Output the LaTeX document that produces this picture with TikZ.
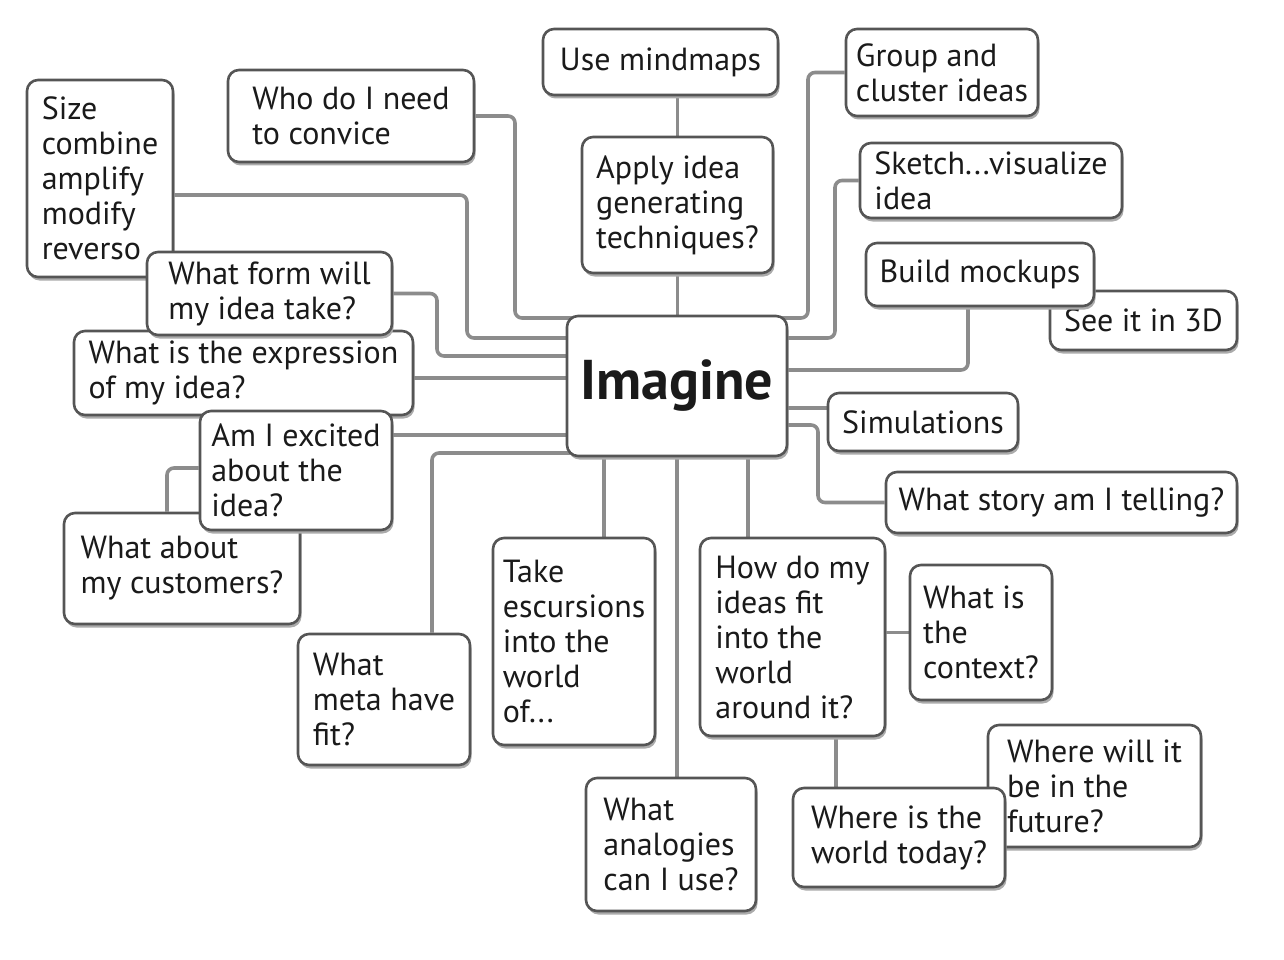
\documentclass[tikz,border=0pt]{standalone}
\usepackage{fontspec}
\setmainfont{PT Sans}
\usetikzlibrary{shadows,calc}
\pgfdeclarelayer{bg}
\pgfsetlayers{bg,main}
\definecolor{boxline}{HTML}{555555}
\definecolor{connline}{HTML}{8C8C8C}
\definecolor{shadowc}{HTML}{ABABAB}
\definecolor{txt}{HTML}{1A1A1A}
\tikzset{
  mbox/.style={draw=boxline, line width=2.6pt, rounded corners=11pt, fill=white,
    align=left, inner sep=0pt, text=txt, font=\fontsize{32}{35}\selectfont,
    drop shadow={shadow xshift=1.5pt, shadow yshift=-3.5pt, fill=shadowc, opacity=1}},
  conn/.style={draw=connline, line width=3.6pt, rounded corners=7pt},
}
\newcommand\bx[6]{\node[mbox, minimum width={#4-#2}, minimum height={#5-#3}] (#1) at ({(#2+#4)/2},{(#3+#5)/2}) {#6};}
\begin{document}
\begin{tikzpicture}[x=1pt,y=-1pt]
\useasboundingbox (0,0) rectangle (1284,960);
\bx{size}{27}{80}{173}{277}{Size\\combine\\amplify\\modify\\reverso}
\bx{who}{228}{70}{474}{162}{Who do I need\\to convice}
\bx{mind}{543}{29}{778}{95}{Use mindmaps}
\bx{apply}{582}{137}{773}{273}{Apply idea\\generating\\techniques?}
\bx{group}{846}{29}{1038}{116}{Group and\\cluster ideas}
\bx{sketch}{860}{143}{1122}{218}{Sketch...visualize\\idea}
\bx{see}{1050}{291}{1237}{350}{See it in 3D}
\bx{build}{866}{243}{1094}{306}{Build mockups}
\node[mbox, minimum width=220, minimum height=140, font=\fontsize{56}{60}\bfseries] (imag) at (677,386) {Imagine};
\bx{sim}{828}{393}{1018}{451}{Simulations}
\bx{story}{886}{472}{1237}{533}{What story am I telling?}
\bx{expr}{74}{331}{413}{415}{What is the expression\\of my idea?}
\bx{form}{147}{252}{392}{335}{What form will\\my idea take?}
\bx{cust}{64}{513}{300}{624}{What about\\my customers?}
\bx{excited}{200}{411}{392}{530}{Am I excited\\about the\\idea?}
\bx{meta}{298}{634}{470}{765}{What\\meta have\\fit?}
\bx{take}{493}{538}{655}{745}{Take\\escursions\\into the\\world\\of...}
\bx{analog}{586}{778}{756}{911}{What\\analogies\\can I use?}
\bx{how}{700}{538}{885}{736}{How do my\\ideas fit\\into the\\world\\around it?}
\bx{context}{910}{565}{1052}{700}{What is\\the\\context?}
\bx{future}{988}{725}{1201}{847}{Where will it\\be in the\\future?}
\bx{today}{793}{788}{1005}{887}{Where is the\\world today?}
\begin{pgfonlayer}{bg}
\fill[white] (0,0) rectangle (1284,960);
\draw[conn] (apply.north) -- (apply.north |- mind.south);
\draw[conn] (apply.south) -- (apply.south |- imag.north);
\draw[conn] (group.west) -| (808,318) -- (imag.center |- 0,318);
\draw[conn] (sketch.west) -| (835,338) -- (imag.center |- 0,338);
\draw[conn] (build.south -| 968,0) |- (imag.center |- 0,370);
\draw[conn] (sim.west |- 0,408) -- (imag.center |- 0,408);
\draw[conn] (story.west) -| (818,425) -- (imag.center |- 0,425);
\draw[conn] (take.north -| 604,0) -- (imag.center -| 604,0);
\draw[conn] (analog.north -| 677,0) -- (imag.center -| 677,0);
\draw[conn] (how.north -| 748,0) -- (imag.center -| 748,0);
\draw[conn] (how.south -| 836,0) -- (today.north -| 836,0);
\draw[conn] (context.west) -- (how.east |- context.west);
\draw[conn] (meta.north -| 432,0) |- (imag.center |- 0,453);
\draw[conn] (excited.east |- 0,435) -- (imag.center |- 0,435);
\draw[conn] (expr.east |- 0,378) -- (imag.center |- 0,378);
\draw[conn] (form.east) -| (437,356) -- (imag.center |- 0,356);
\draw[conn] (size.east |- 0,195) -| (467,338) -- (imag.center |- 0,338);
\draw[conn] (who.east) -| (515,318) -- (imag.center |- 0,318);
\draw[conn] (excited.west |- 0,468) -| (cust.north -| 167,0);
\end{pgfonlayer}
\end{tikzpicture}
\end{document}
